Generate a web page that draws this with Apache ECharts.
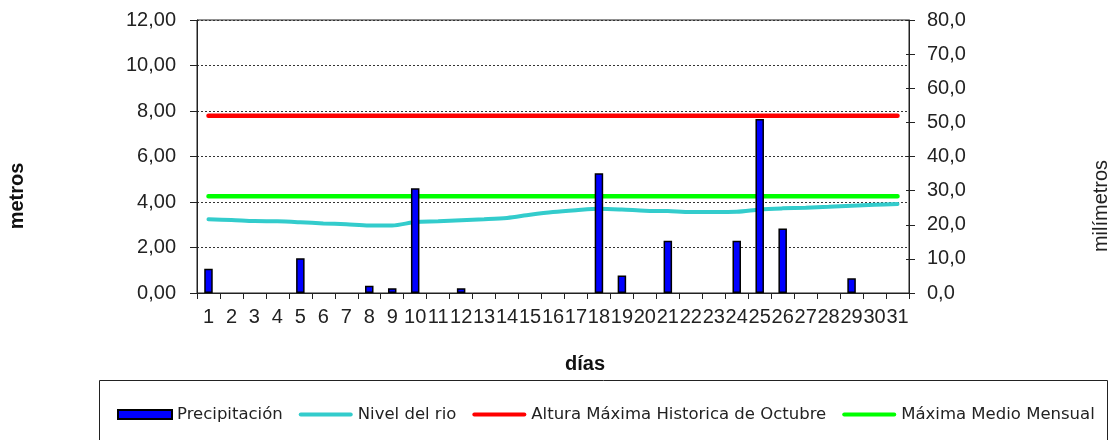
<!DOCTYPE html>
<html>
<head>
<meta charset="utf-8">
<script src="https://cdn.jsdelivr.net/npm/echarts@6/dist/echarts.min.js"></script>
<style>
  html, body { margin: 0; padding: 0; background: #fff; }
  #chart { width: 1109px; height: 440px; }
</style>
</head>
<body>
<div id="chart"></div>
<script>
// ---- data ----
const dias = ['1','2','3','4','5','6','7','8','9','10','11','12','13','14','15','16','17','18','19','20','21','22','23','24','25','26','27','28','29','30','31'];
// precipitation, millimetres (right axis)
const precipitacion = [7.1,0,0,0,10.2,0,0,2.1,1.4,30.7,0,1.4,0,0,0,0,0,35.1,5.1,0,15.3,0,0,15.3,51.0,18.9,0,0,4.3,0,0];
// river level, metres (left axis)
const nivelRio = [3.24,3.21,3.16,3.15,3.11,3.06,3.02,2.97,2.97,3.12,3.15,3.20,3.24,3.30,3.44,3.56,3.64,3.70,3.67,3.62,3.60,3.56,3.56,3.57,3.67,3.72,3.75,3.79,3.84,3.88,3.91];
// historical October maximum, metres
const alturaMaxima = [7.79,7.79,7.79,7.79,7.79,7.79,7.79,7.79,7.79,7.79,7.79,7.79,7.79,7.79,7.79,7.79,7.79,7.79,7.79,7.79,7.79,7.79,7.79,7.79,7.79,7.79,7.79,7.79,7.79,7.79,7.79];
// monthly mean maximum, metres
const maximaMedio = [4.25,4.25,4.25,4.25,4.25,4.25,4.25,4.25,4.25,4.25,4.25,4.25,4.25,4.25,4.25,4.25,4.25,4.25,4.25,4.25,4.25,4.25,4.25,4.25,4.25,4.25,4.25,4.25,4.25,4.25,4.25];
const seriesNames = ['Precipitación', 'Nivel del rio', 'Altura Máxima Historica de Octubre', 'Máxima Medio Mensual'];
const metrosAxis = { min: 0, max: 12, interval: 2 };
const mmAxis = { min: 0, max: 80, interval: 10 };

const chart = echarts.init(document.getElementById('chart'), null, { renderer: 'canvas' });
const axisFont = { fontFamily: 'Liberation Sans', fontSize: 20, color: '#222' };
const lineIcon = 'path://M2,0 H52 A2,2 0 0 1 52,4 H2 A2,2 0 0 1 2,0 Z';

chart.setOption({
  animation: false,
  backgroundColor: '#fff',
  grid: { left: 197, right: 200, top: 20, bottom: 147, show: true, borderColor: '#222', borderWidth: 1, backgroundColor: 'transparent' },
  xAxis: {
    type: 'category',
    data: dias,
    boundaryGap: true,
    axisLine: { lineStyle: { color: '#222', width: 1 } },
    axisTick: { show: true, alignWithLabel: false, length: 6, lineStyle: { color: '#222' } },
    axisLabel: Object.assign({ interval: 0, margin: 14 }, axisFont),
    splitLine: { show: false }
  },
  yAxis: [
    {
      type: 'value', position: 'left',
      min: metrosAxis.min, max: metrosAxis.max, interval: metrosAxis.interval,
      axisLine: { show: true, lineStyle: { color: '#222', width: 1 } },
      axisTick: { show: true, length: 7, lineStyle: { color: '#222' } },
      axisLabel: Object.assign({ margin: 21, formatter: v => v.toFixed(2).replace('.', ',') }, axisFont),
      splitLine: { show: true, lineStyle: { color: '#333', type: [2, 2], width: 1 } }
    },
    {
      type: 'value', position: 'right',
      min: mmAxis.min, max: mmAxis.max, interval: mmAxis.interval,
      axisLine: { show: true, lineStyle: { color: '#222', width: 1 } },
      axisTick: { show: true, length: 6, lineStyle: { color: '#222' } },
      axisLabel: Object.assign({ margin: 18, formatter: v => v.toFixed(1).replace('.', ',') }, axisFont),
      splitLine: { show: false }
    },
    {
      type: 'value', position: 'right',
      min: mmAxis.min, max: mmAxis.max, interval: mmAxis.interval,
      axisLine: { show: false },
      axisTick: { show: true, inside: true, length: 3, lineStyle: { color: '#222' } },
      axisLabel: { show: false },
      splitLine: { show: false }
    }
  ],
  legend: {
    left: 117, top: 406, padding: 0,
    itemWidth: 54, itemHeight: 9, itemGap: 16,
    symbolKeepAspect: true,
    textStyle: { fontFamily: 'DejaVu Sans', fontSize: 16.5, color: '#222' },
    data: [
      { name: seriesNames[0], icon: 'rect' },
      { name: seriesNames[1], icon: lineIcon },
      { name: seriesNames[2], icon: lineIcon },
      { name: seriesNames[3], icon: lineIcon }
    ]
  },
  graphic: [
    { type: 'rect', shape: { x: 99.5, y: 380.5, width: 1008, height: 80 }, style: { fill: 'none', stroke: '#222', lineWidth: 1 }, silent: true },
    { type: 'text', x: 17, y: 196, rotation: Math.PI / 2, style: { text: 'metros', fontFamily: 'Liberation Sans', fontWeight: 'bold', fontSize: 20, fill: '#111', align: 'center', verticalAlign: 'middle' } },
    { type: 'text', x: 1101, y: 206, rotation: Math.PI / 2, style: { text: 'milímetros', fontFamily: 'Liberation Sans', fontSize: 20, fill: '#222', align: 'center', verticalAlign: 'middle' } },
    { type: 'text', x: 585, y: 364, style: { text: 'días', fontFamily: 'Liberation Sans', fontWeight: 'bold', fontSize: 20, fill: '#111', align: 'center', verticalAlign: 'middle' } }
  ],
  series: [
    {
      name: seriesNames[0], type: 'bar', yAxisIndex: 1,
      data: precipitacion.map(v => (v === 0 ? '-' : v)),
      barWidth: 8.5, z: 4,
      itemStyle: { color: '#0000FF', borderColor: '#000', borderWidth: 1.5 }
    },
    {
      name: seriesNames[1], type: 'line', yAxisIndex: 0, data: nivelRio,
      smooth: 0.3, symbol: 'none', z: 3,
      lineStyle: { color: '#33CCCC', width: 4, cap: 'round' }, itemStyle: { color: '#33CCCC' }
    },
    {
      name: seriesNames[2], type: 'line', yAxisIndex: 0, data: alturaMaxima,
      symbol: 'none', z: 3,
      lineStyle: { color: '#FF0000', width: 4.5, cap: 'round' }, itemStyle: { color: '#FF0000' }
    },
    {
      name: seriesNames[3], type: 'line', yAxisIndex: 0, data: maximaMedio,
      symbol: 'none', z: 3,
      lineStyle: { color: '#00FF00', width: 4.5, cap: 'round' }, itemStyle: { color: '#00FF00' }
    }
  ]
});
</script>
</body>
</html>
